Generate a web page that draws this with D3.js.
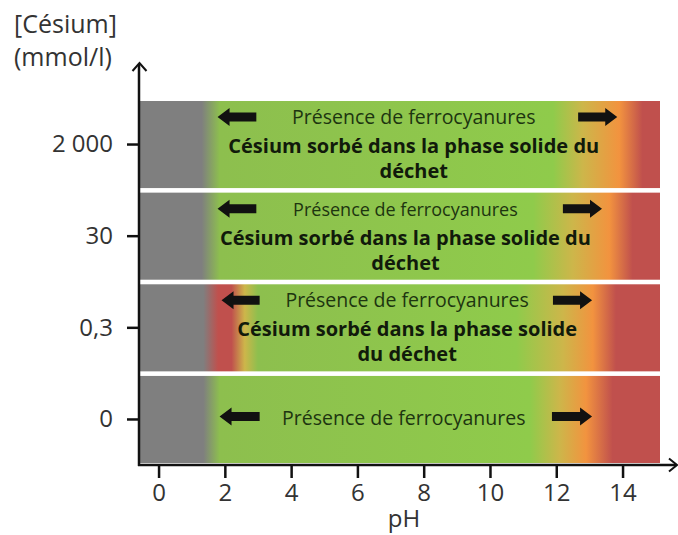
<!DOCTYPE html>
<html>
<head>
<meta charset="utf-8">
<script src="https://cdn.jsdelivr.net/npm/d3@7"></script>
<style>
  body { margin: 0; background: #fff; }
  text { font-family: "Open Sans", sans-serif; }
</style>
</head>
<body>
<script>
 // concentration categories (top to bottom)
 const yLabels = ["2 000", "30", "0,3", "0"];
 // pH ticks
 const xTicks = [0, 2, 4, 6, 8, 10, 12, 14];

 // colour stops along pH for each band
 const bandStops = [
    [[-1, "gray"], [1.3, "gray"], [1.85, "greenL"], [11.9, "greenR"], [12.8, "yellow"], [13.9, "orange"], [14.6, "red"], [16, "red"]],
    [[-1, "gray"], [1.3, "gray"], [1.85, "greenL"], [11.3, "greenR"], [12.5, "yellow"], [13.6, "orange"], [14.3, "red"], [16, "red"]],
    [[-1, "gray"], [1.35, "gray"], [1.8, "red"], [2.2, "red"], [2.6, "yellow"], [3.0, "greenL"], [10.8, "greenR"], [12.2, "yellow"], [13.1, "orange"], [13.8, "red"], [16, "red"]],
    [[-1, "gray"], [1.35, "gray"], [1.85, "greenL"], [11.2, "greenR"], [12.1, "yellow"], [12.9, "orange"], [13.7, "red"], [16, "red"]]
 ];

 // annotation texts
 const presence = "Présence de ferrocyanures";
 const sorbed = [
    ["Césium sorbé dans la phase solide du", "déchet"],
    ["Césium sorbé dans la phase solide du", "déchet"],
    ["Césium sorbé dans la phase solide", "du déchet"],
    []
 ];
 // arrows, in pH units [tip, tail]
 const leftArrows = [[1.78, 2.95], [1.78, 2.95], [1.9, 3.05], [1.84, 3.05]];
 const rightArrows = [[13.84, 12.66], [13.38, 12.2], [13.08, 11.9], [13.08, 11.87]];
 const textCenter = [7.7, 7.45, 7.5, 7.4];

 // constants
 const width = 678;
 const height = 535;
 const colors = { gray: "#7f7f7f", greenL: "#8dbf4e", greenR: "#8fcb4b",
                  yellow: "#cdb64a", orange: "#f2933f", red: "#c0504d" };

 const svg = d3.select("body").append("svg")
       .attr("width", width).attr("height", height);

 const x = d3.scaleLinear().domain([-0.56, 15.13]).range([140, 660]);
 const y = d3.scaleBand().domain(yLabels).range([101, 463])
             .paddingInner(0.05).paddingOuter(0);

 // gradients
 const defs = svg.append("defs");
 yLabels.forEach((lab, i) => {
    const g = defs.append("linearGradient").attr("id", "grad" + i)
        .attr("gradientUnits", "userSpaceOnUse")
        .attr("x1", x(-0.56)).attr("x2", x(15.13)).attr("y1", 0).attr("y2", 0);
    bandStops[i].forEach(s => {
       const off = Math.max(0, Math.min(1, (s[0] + 0.56) / (15.13 + 0.56)));
       g.append("stop").attr("offset", off).attr("stop-color", colors[s[1]]);
    });
 });

 // bands
 svg.append("g").selectAll("rect").data(yLabels).enter().append("rect")
    .attr("x", x(-0.56)).attr("y", d => y(d))
    .attr("width", x(15.13) - x(-0.56)).attr("height", y.bandwidth())
    .attr("fill", (d, i) => `url(#grad${i})`);

 // arrows
 const arrowPath = function(tip, tail, cy) {
    const dir = tail > tip ? 1 : -1;
    const h = 12 * dir;
    return `M${tip},${cy} L${tip + h},${cy - 9} L${tip + h},${cy - 4.5} L${tail},${cy - 4.5}` +
           ` L${tail},${cy + 4.5} L${tip + h},${cy + 4.5} L${tip + h},${cy + 9} Z`;
 };

 yLabels.forEach((lab, i) => {
    const top = y(lab);
    const multi = sorbed[i].length > 0;
    const arrowY = multi ? top + 16 : top + y.bandwidth() / 2 - 3;
    const presY = multi ? top + 23 : top + y.bandwidth() / 2 + 6;
    svg.append("path").attr("d", arrowPath(x(leftArrows[i][0]), x(leftArrows[i][1]), arrowY)).attr("fill", "#111");
    svg.append("path").attr("d", arrowPath(x(rightArrows[i][0]), x(rightArrows[i][1]), arrowY)).attr("fill", "#111");
    svg.append("text").attr("x", x(textCenter[i])).attr("y", presY)
       .attr("text-anchor", "middle").attr("fill", "#1d3510")
       .style("font-size", i == 1 ? "18px" : "19.5px")
       .text(presence);
    sorbed[i].forEach((line, j) => {
       svg.append("text").attr("x", x(textCenter[i])).attr("y", top + 52 + j * 25)
          .attr("text-anchor", "middle").attr("fill", "#111a0b")
          .style("font-size", "20px").style("font-weight", "bold")
          .text(line);
    });
 });

 // axes
 const axisY = 465;
 const axisX = 139;

 // y axis
 svg.append("g").attr("transform", `translate(${axisX},0)`)
    .call(d3.axisLeft(y).tickSize(12).tickPadding(14))
    .call(g => g.select(".domain").remove())
    .call(g => g.selectAll("line").attr("stroke", "#111").attr("stroke-width", 2.5))
    .call(g => g.selectAll("text").style("font-size", "24px").attr("fill", "#333")
                .style("font-family", "'Open Sans', sans-serif"));

 // x axis
 svg.append("g").attr("transform", `translate(0,${axisY})`)
    .call(d3.axisBottom(x).tickValues(xTicks).tickSize(13).tickPadding(6))
    .call(g => g.select(".domain").remove())
    .call(g => g.selectAll("line").attr("stroke", "#111").attr("stroke-width", 2.5))
    .call(g => g.selectAll("text").style("font-size", "24px").attr("fill", "#333")
                .style("font-family", "'Open Sans', sans-serif"));

 // axis lines with arrow heads
 svg.append("path").attr("d", `M${axisX},${axisY + 1} L${axisX},64`)
    .attr("stroke", "#111").attr("stroke-width", 2.5).attr("fill", "none");
 svg.append("path").attr("d", `M${axisX - 6.5},71 L${axisX + 0.5},63 L${axisX + 7.5},71`)
    .attr("stroke", "#111").attr("stroke-width", 2).attr("fill", "none");
 svg.append("path").attr("d", `M${axisX - 1},${axisY} L676,${axisY}`)
    .attr("stroke", "#111").attr("stroke-width", 2.5).attr("fill", "none");
 svg.append("path").attr("d", `M669,${axisY - 6.5} L677,${axisY} L669,${axisY + 6.5}`)
    .attr("stroke", "#111").attr("stroke-width", 2).attr("fill", "none");

 // axis titles
 const ytitle = svg.append("text").attr("x", 14).attr("fill", "#333").style("font-size", "25px");
 ytitle.append("tspan").attr("x", 14).attr("y", 33).text("[Césium]");
 ytitle.append("tspan").attr("x", 14).attr("y", 66).text("(mmol/l)");

 svg.append("text").attr("x", 404).attr("y", 527).attr("text-anchor", "middle")
    .attr("fill", "#333").style("font-size", "24px").text("pH");
</script>
</body>
</html>
